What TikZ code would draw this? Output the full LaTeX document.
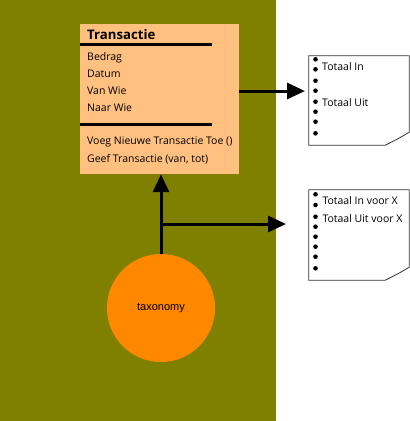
\documentclass[tikz,border=0pt]{standalone}
\usepackage{fontspec}
\setmainfont{Open Sans}
\newfontfamily\taxfont{Liberation Sans}
\usetikzlibrary{arrows.meta,calc}
\definecolor{olivebg}{HTML}{808000}
\definecolor{peach}{HTML}{FFC080}
\definecolor{orangec}{HTML}{FF8800}
\definecolor{notec}{HTML}{333333}
\begin{document}
\begin{tikzpicture}[x=1pt,y=-1pt,
  classbox/.style={fill=peach,draw=none,minimum width=159pt,minimum height=150pt,inner sep=0pt},
  item/.style={anchor=base west,inner sep=0pt,font=\fontsize{10.5}{12}\selectfont},
  titletext/.style={anchor=base west,inner sep=0pt,font=\fontsize{13.2}{15}\selectfont\bfseries},
  rulebar/.style={line width=3pt,black},
  arr/.style={line width=3pt,-{Triangle[length=18pt,width=16pt]}},
  notebox/.style={draw=none,minimum width=100pt,inner sep=0pt},
  noteline/.style={draw=notec,line width=0.8pt,fill=white},
  notetext/.style={anchor=base west,inner sep=0pt,font=\fontsize{10.5}{12}\selectfont},
  dotmark/.style={fill=black},
  taxcircle/.style={circle,fill=orangec,minimum size=108pt,inner sep=0pt,font=\taxfont\fontsize{11}{13}\selectfont}]
\useasboundingbox (0,0) rectangle (410,421);
\fill[olivebg] (0,0) rectangle (276,421);

% class box
\node[classbox] (trans) at (159.5,99) {};
\node[titletext] (title) at (87,39) {Transactie};
\draw[rulebar] (80,44) -- (212,44);
\node[item] (i1) at (87,60.7) {Bedrag};
\node[item] (i2) at (87,77.3) {Datum};
\node[item] (i3) at (87,94.2) {Van Wie};
\node[item] (i4) at (87,111) {Naar Wie};
\draw[rulebar] (80,124) -- (212,124);
\node[item] (m1) at (87,144.5) {Voeg Nieuwe Transactie Toe ()};
\node[item] (m2) at (87,162) {Geef Transactie (van, tot)};

% notes
\node[notebox,minimum height=89pt] (n1) at (359,100.5) {};
\draw[noteline] (n1.north west) -- (n1.north east) -- ($(n1.south east)+(0,-13)$)
  .. controls ($(n1.south east)+(-10,-7)$) .. ($(n1.south east)+(-24,0)$) -- (n1.south west) -- cycle;
\foreach \yy in {59.3,69.3,80.7,90.7,101.7,111.7,121.7,133.3} \fill[dotmark] (315.5,\yy) circle (2.3pt);
\node[notetext] (n1a) at (322,70.4) {Totaal In};
\node[notetext] (n1b) at (322,106) {Totaal Uit};

\node[notebox,minimum height=90pt] (n2) at (359,235) {};
\draw[noteline] (n2.north west) -- (n2.north east) -- ($(n2.south east)+(0,-13)$)
  .. controls ($(n2.south east)+(-10,-7)$) .. ($(n2.south east)+(-24,0)$) -- (n2.south west) -- cycle;
\foreach \yy in {194.3,205,216.7,226.7,236.7,246.7,256.7,268.3} \fill[dotmark] (315.5,\yy) circle (2.3pt);
\node[notetext] (n2a) at (322.3,204.8) {Totaal In voor X};
\node[notetext] (n2b) at (322.3,222.8) {Totaal Uit voor X};

% circle
\node[taxcircle] (tax) at (161,308) {taxonomy};

% connectors
\coordinate (t1) at (305,91);
\draw[arr] (trans.east |- t1) -- (t1);
\draw[arr] (tax.north) -- (tax.north |- trans.south);
\coordinate (j) at (161,224);
\coordinate (t2) at (286,224);
\draw[arr] (j) -- (t2);
\end{tikzpicture}
\end{document}
